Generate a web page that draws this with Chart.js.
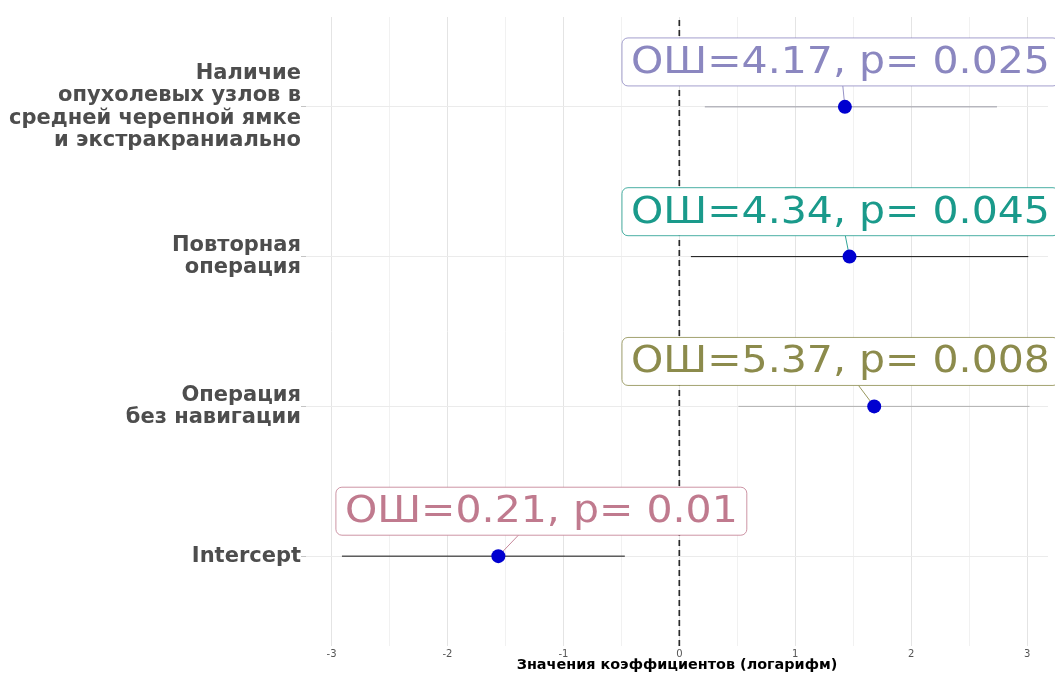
<!DOCTYPE html>
<html>
<head>
<meta charset="utf-8">
<script src="https://cdn.jsdelivr.net/npm/chart.js@4/dist/chart.umd.min.js"></script>
<style>
html, body { margin: 0; padding: 0; background: #fff; }
</style>
</head>
<body>
<canvas id="forest" width="1055" height="674"></canvas>
<script>
// rows, top to bottom
const categories = [
  ["Наличие", "опухолевых узлов в", "средней черепной ямке", "и экстракраниально"],
  ["Повторная", "операция"],
  ["Операция", "без навигации"],
  ["Intercept"]
];
const estimates = [1.428, 1.468, 1.681, -1.561];
const ciLow = [0.22, 0.10, 0.51, -2.91];
const ciHigh = [2.74, 3.01, 3.02, -0.47];
const labelTexts = ["ОШ=4.17, p= 0.025", "ОШ=4.34, p= 0.045", "ОШ=5.37, p= 0.008", "ОШ=0.21, p= 0.01"];
const labelX = [1.39, 1.39, 1.39, -1.19];
const xTickValues = [-3, -2, -1, 0, 1, 2, 3];

const labelColors = ["#8b87c0", "#1a9a8b", "#8c8b4c", "#c07a8e"];
const ciColors = ["#9a9aa6", "#111111", "#b0b0b0", "#111111"];
const FONT = "'DejaVu Sans', sans-serif";

const yPos = categories.map((c, i) => categories.length - i);

const datasets = [];

// points
datasets.push({
  data: estimates.map((v, i) => ({ x: v, y: yPos[i] })),
  pointRadius: 7,
  pointBackgroundColor: "#0000d0",
  pointBorderWidth: 0,
  showLine: false,
  order: 0
});

// confidence intervals
categories.forEach((c, i) => {
  datasets.push({
    data: [{ x: ciLow[i], y: yPos[i] }, { x: ciHigh[i], y: yPos[i] }],
    showLine: true,
    borderColor: ciColors[i],
    borderWidth: 1,
    pointRadius: 0,
    order: 2
  });
});

// zero reference
datasets.push({
  data: [{ x: 0, y: 0.4 }, { x: 0, y: 4.6 }],
  showLine: true,
  borderColor: "#2a2a2a",
  borderWidth: 1.7,
  borderDash: [6, 4],
  pointRadius: 0,
  order: 1
});

const LABEL_DY = 0.3;
const BOX_H = 48;
const PAD_X = 9;
const TXT_SIZE = 38;
const TXT_STRETCH = 1.08;

function labelBox(chart, i) {
  const ctx = chart.ctx;
  const xs = chart.scales.x, ys = chart.scales.y;
  ctx.font = TXT_SIZE + "px " + FONT;
  const w = ctx.measureText(labelTexts[i]).width * TXT_STRETCH;
  const cx = xs.getPixelForValue(labelX[i]);
  const cy = ys.getPixelForValue(yPos[i] + LABEL_DY);
  return { cx, cy, w, left: cx - w / 2 - PAD_X, top: cy - BOX_H / 2, width: w + 2 * PAD_X, height: BOX_H };
}

const repelLabels = {
  id: "repelLabels",
  beforeDatasetsDraw(chart) {
    const ctx = chart.ctx;
    const xs = chart.scales.x, ys = chart.scales.y;
    ctx.save();
    labelTexts.forEach((t, i) => {
      const b = labelBox(chart, i);
      const px = xs.getPixelForValue(estimates[i]);
      const py = ys.getPixelForValue(yPos[i]);
      const bottom = b.top + b.height;
      const k = (py - bottom) / (py - b.cy);
      const ex = px + k * (b.cx - px);
      ctx.strokeStyle = labelColors[i];
      ctx.lineWidth = 0.9;
      ctx.beginPath();
      ctx.moveTo(px, py);
      ctx.lineTo(ex, bottom);
      ctx.stroke();
    });
    ctx.restore();
  },
  afterDatasetsDraw(chart) {
    const ctx = chart.ctx;
    labelTexts.forEach((t, i) => {
      const b = labelBox(chart, i);
      ctx.save();
      ctx.beginPath();
      ctx.roundRect(b.left, b.top, b.width, b.height, 6);
      ctx.fillStyle = "#fff";
      ctx.fill();
      ctx.strokeStyle = labelColors[i];
      ctx.lineWidth = 0.8;
      ctx.stroke();
      ctx.font = TXT_SIZE + "px " + FONT;
      ctx.fillStyle = labelColors[i];
      ctx.textAlign = "center";
      ctx.textBaseline = "middle";
      ctx.translate(b.cx, b.cy + 1);
      ctx.scale(TXT_STRETCH, 1);
      ctx.fillText(t, 0, 0);
      ctx.restore();
    });
  }
};

new Chart(document.getElementById("forest"), {
  type: "scatter",
  data: { datasets },
  plugins: [repelLabels],
  options: {
    responsive: false,
    animation: false,
    devicePixelRatio: 1,
    layout: { padding: { top: 17, right: 0, left: 0, bottom: 0 } },
    plugins: { legend: { display: false }, tooltip: { enabled: false } },
    scales: {
      x: {
        type: "linear",
        min: -3.22,
        max: 3.18,
        border: { display: false },
        grid: {
          drawTicks: false,
          color: c => (c.tick && c.tick.value % 1 === 0) ? "#e4e4e4" : "#f1f1f1",
          lineWidth: 1
        },
        ticks: {
          stepSize: 0.5,
          includeBounds: false,
          autoSkip: false,
          maxRotation: 0,
          padding: 2,
          color: "#555",
          font: { family: FONT, size: 10 },
          callback: v => xTickValues.includes(v) ? String(v) : ""
        },
        title: {
          display: true,
          text: "Значения коэффициентов (логарифм)",
          color: "#000",
          font: { family: FONT, size: 14.4, weight: "bold" },
          padding: { top: 0, bottom: 0 }
        },
        afterFit: s => { s.height = 28; }
      },
      y: {
        type: "linear",
        min: 0.4,
        max: 4.6,
        border: { display: false },
        grid: { color: "#ebebeb", lineWidth: 1, tickLength: 5, tickColor: "#c4c4c4" },
        ticks: {
          stepSize: 1,
          includeBounds: false,
          padding: 0,
          color: "#4d4d4d",
          font: { family: FONT, size: 21, weight: "bold", lineHeight: 1.07 },
          callback: v => categories[categories.length - v]
        },
        afterFit: s => { s.width = 306; s.paddingTop = 0; s.paddingBottom = 0; }
      }
    }
  }
});
</script>
</body>
</html>
